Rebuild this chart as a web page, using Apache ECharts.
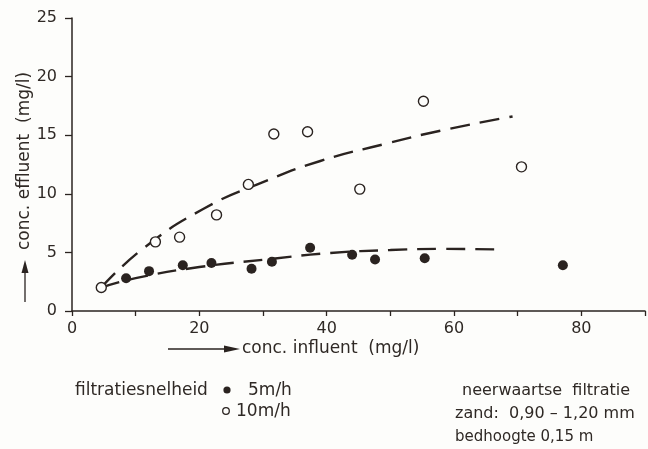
<!DOCTYPE html>
<html>
<head>
<meta charset="utf-8">
<script src="https://cdn.jsdelivr.net/npm/echarts@6/dist/echarts.min.js"></script>
<style>
  html, body { margin: 0; padding: 0; background: #fdfdfb; }
  #chart { width: 648px; height: 449px; }
</style>
</head>
<body>
<div id="chart"></div>
<script>
// Filtration test: effluent vs influent concentration (mg/l)
const xLabelValues = [0, 20, 40, 60, 80];

// 10 m/h (open circles)
const influent10 = [4.6, 13.1, 16.9, 22.7, 27.7, 31.7, 37.0, 45.2, 55.2, 70.6];
const effluent10 = [2.0, 5.9, 6.3, 8.2, 10.8, 15.1, 15.3, 10.4, 17.9, 12.3];

// 5 m/h (filled dots)
const influent5 = [8.5, 12.1, 17.4, 21.9, 28.2, 31.4, 37.4, 44.0, 47.6, 55.4, 77.1];
const effluent5 = [2.8, 3.4, 3.9, 4.1, 3.6, 4.2, 5.4, 4.8, 4.4, 4.5, 3.9];

// hand-fitted trend curves
const fitX10 = [4.6, 11.1, 20.6, 30.0, 39.0, 49.5, 58.0, 69.2];
const fitY10 = [2.0, 5.3, 8.7, 11.0, 12.8, 14.3, 15.4, 16.6];
const fitX5 = [4.6, 10.0, 20.0, 30.6, 40.6, 50.0, 58.0, 67.1];
const fitY5 = [2.0, 2.8, 3.75, 4.4, 4.95, 5.2, 5.3, 5.25];

const ink = '#2a2320';
const textInk = '#2f2925';
const font = 'DejaVu Sans';

const zip = (xs, ys) => xs.map((x, i) => [x, ys[i]]);

const chart = echarts.init(document.getElementById('chart'), null, { renderer: 'canvas' });

const txt = (x, y, text, size, align) => ({
  type: 'text', x: x, y: y,
  style: { text: text, fill: textInk, font: size + 'px "' + font + '"', textAlign: align || 'left', textVerticalAlign: 'middle' }
});

chart.setOption({
  backgroundColor: '#fdfdfb',
  animation: false,
  grid: { left: 72, right: 3, top: 18, bottom: 138, containLabel: false },
  xAxis: {
    type: 'value', min: 0, max: 90, interval: 10,
    axisLine: { show: true, lineStyle: { color: ink, width: 1.5 } },
    axisTick: { show: true, length: 5, lineStyle: { color: ink, width: 1.3 } },
    splitLine: { show: false },
    axisLabel: {
      margin: 10, color: textInk, fontFamily: font, fontSize: 16,
      formatter: v => xLabelValues.includes(v) ? String(v) : ''
    }
  },
  yAxis: {
    type: 'value', min: 0, max: 25, interval: 5,
    axisLine: { show: true, lineStyle: { color: ink, width: 1.5 } },
    axisTick: { show: true, length: 7, lineStyle: { color: ink, width: 1.3 } },
    splitLine: { show: false },
    axisLabel: { margin: 15, color: textInk, fontFamily: font, fontSize: 16 }
  },
  series: [
    {
      type: 'line', data: zip(fitX10, fitY10), smooth: 0.5, showSymbol: false,
      lineStyle: { color: ink, width: 2.4, type: [20, 10] }, z: 1
    },
    {
      type: 'line', data: zip(fitX5, fitY5), smooth: 0.5, showSymbol: false,
      lineStyle: { color: ink, width: 2.4, type: [19, 10] }, z: 1
    },
    {
      name: '10m/h', type: 'scatter', data: zip(influent10, effluent10),
      symbol: 'circle', symbolSize: 10,
      itemStyle: { color: '#fdfdfb', borderColor: ink, borderWidth: 1.4, opacity: 1 }, z: 3
    },
    {
      name: '5m/h', type: 'scatter', data: zip(influent5, effluent5),
      symbol: 'circle', symbolSize: 10,
      itemStyle: { color: ink, opacity: 1 }, z: 3
    }
  ],
  graphic: [
    // y-axis title with upward arrow
    { type: 'line', shape: { x1: 25, y1: 302, x2: 25, y2: 272 }, style: { stroke: ink, lineWidth: 1.3 } },
    { type: 'polygon', shape: { points: [[25, 260], [21.5, 273], [28.5, 273]] }, style: { fill: ink } },
    {
      type: 'text', x: 25, y: 250, rotation: Math.PI / 2,
      style: { text: 'conc. effluent  (mg/l)', fill: textInk, font: '17px "' + font + '"', textAlign: 'left', textVerticalAlign: 'middle' }
    },
    // x-axis title with rightward arrow
    { type: 'line', shape: { x1: 168, y1: 349, x2: 226, y2: 349 }, style: { stroke: ink, lineWidth: 1.3 } },
    { type: 'polygon', shape: { points: [[240, 349], [224, 345.5], [224, 352.5]] }, style: { fill: ink } },
    txt(242, 349, 'conc. influent  (mg/l)', 17),
    // legend
    txt(75, 391, 'filtratiesnelheid', 17),
    { type: 'circle', shape: { cx: 227, cy: 390, r: 3.6 }, style: { fill: ink } },
    txt(248, 391, '5m/h', 17),
    { type: 'circle', shape: { cx: 226, cy: 411, r: 3.3 }, style: { fill: 'none', stroke: ink, lineWidth: 1.3 } },
    txt(236, 412, '10m/h', 17),
    // test conditions
    txt(462, 391, 'neerwaartse  filtratie', 16),
    txt(455, 414, 'zand:  0,90 \u2013 1,20 mm', 16),
    txt(455, 437, 'bedhoogte 0,15 m', 15)
  ]
});
</script>
</body>
</html>
